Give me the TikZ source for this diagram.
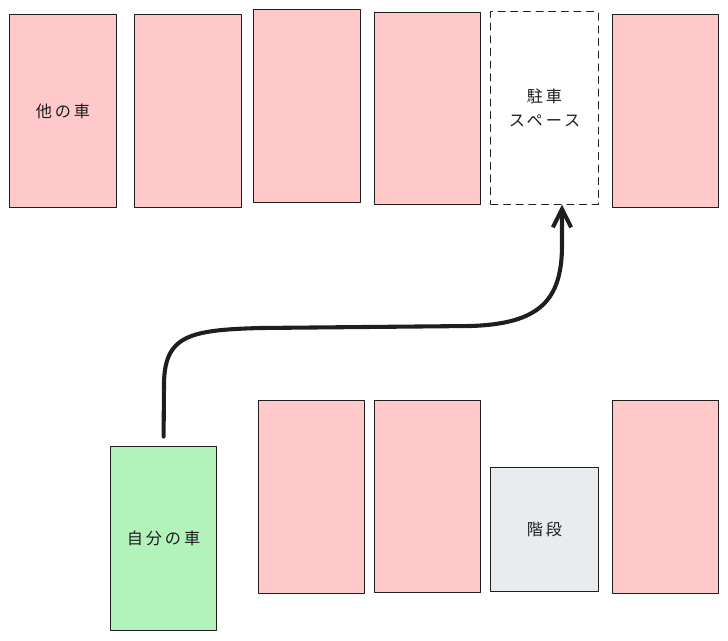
\documentclass[tikz,border=0pt]{standalone}
\usepackage{fontspec}
\setmainfont{Noto Sans CJK JP}[LetterSpace=18]
\usetikzlibrary{arrows.meta}

\definecolor{carpink}{HTML}{FFC9C9}
\definecolor{mygreen}{HTML}{B2F2BB}
\definecolor{stairgray}{HTML}{E9ECEF}
\definecolor{ink}{HTML}{1E1E1E}

\tikzset{
  car/.style={draw=ink, line width=0.7pt, fill=carpink, minimum width=2.65cm, minimum height=4.8cm, inner sep=0pt, text=ink, font=\fontsize{11.5}{17}\selectfont},
  mycar/.style={car, fill=mygreen, minimum height=4.58cm},
  freespot/.style={car, fill=white, dash pattern=on 5pt off 4pt, minimum width=2.68cm, align=center},
  stairs/.style={car, fill=stairgray, minimum width=2.68cm, minimum height=3.12cm},
}

\begin{document}
\begin{tikzpicture}[x=0.025cm, y=-0.025cm, line cap=round, line join=round]
			\useasboundingbox (0,0) rectangle (728,640);
			
			% upper row
			\node [car] (other) at (63,111) {他の車};
			\foreach \n/\x/\y in {up2/188/111, up3/307/106, up4/427/108.5, up6/665/111}{
				\node [car] (\n) at (\x,\y) {};}
			\node [freespot] (space) at (544.5,108) {駐車\\スペース};
			
			% lower row
			\node [mycar] (mine) at (163.5,538.5) {自分の車};
			\foreach \n/\x/\y in {lo2/311.5/497, lo3/427.5/496.5, lo5/665/497}{
				\node [car] (\n) at (\x,\y) {};}
			\node [stairs] (stair) at (544.5,529.5) {階段};
			
			\draw [ink, line width=2.9pt, -{Straight Barb[length=13pt,width=13pt,line width=2.9pt]}, shorten <=7pt]
				(mine.north) -- (164,385) .. controls (164,335) and (190,330) .. (260,328)
				-- (470,326) .. controls (540,324) and (562,300) .. (562,245)
				-- ([xshift=17.5*0.025cm]space.south);
		\end{tikzpicture}
\end{document}
